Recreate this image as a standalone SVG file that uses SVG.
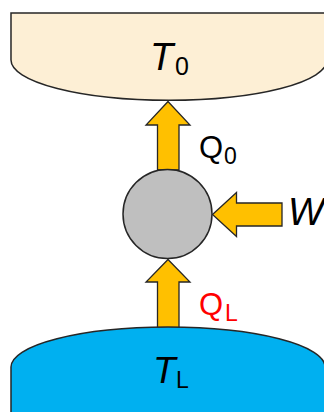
<svg xmlns="http://www.w3.org/2000/svg" width="324" height="412" viewBox="0 0 324 412">
<style>
.res{stroke:#262626;stroke-width:1.5}
.arr{fill:#ffc000;stroke:#262626;stroke-width:1.3;stroke-linejoin:miter}
text{font-family:"Liberation Sans",Arial,sans-serif;fill:#000}
.it{font-style:italic}
.red{fill:#ff0000}
</style>
<rect width="324" height="412" fill="#ffffff"/>
<g id="connectors">
<polygon id="arrow-Q0" class="arr" points="157.5,170 157.5,125 146,125 168,101.5 190,125 179,125 179,170"/>
<polygon id="arrow-QL" class="arr" points="157.5,328 157.5,282 146,282 168,259.5 190,282 179,282 179,328"/>
<polygon id="arrow-W" class="arr" points="282,203 236.5,203 236.5,192.5 212.5,214.5 236.5,236.5 236.5,226 282,226"/>
</g>
<g id="hot-reservoir">
<path class="res" fill="#fdefd5" d="M11,13 H327 V60 A157,40 0 0 1 11,60 Z"/>
<text x="150" y="70" font-size="38" class="it">T</text>
<text x="175" y="75" font-size="25">0</text>
</g>
<g id="cold-reservoir">
<path class="res" fill="#00b0f0" d="M11,416 V367 A157,40 0 0 1 325,367 V416 Z"/>
<text x="153" y="383" font-size="37" class="it">T</text>
<text x="176" y="388" font-size="23">L</text>
</g>
<g id="engine">
<circle cx="167.5" cy="214" r="44.5" fill="#bfbfbf" stroke="#262626" stroke-width="1.5"/>
</g>
<g id="label-Q0">
<text x="199" y="158" font-size="31">Q</text>
<text x="224" y="164" font-size="23">0</text>
</g>
<g id="label-QL">
<text x="199" y="315" font-size="31" class="red">Q</text>
<text x="225" y="321" font-size="23" class="red">L</text>
</g>
<g id="label-W">
<text x="288" y="225" font-size="38" class="it">W</text>
</g>
</svg>
